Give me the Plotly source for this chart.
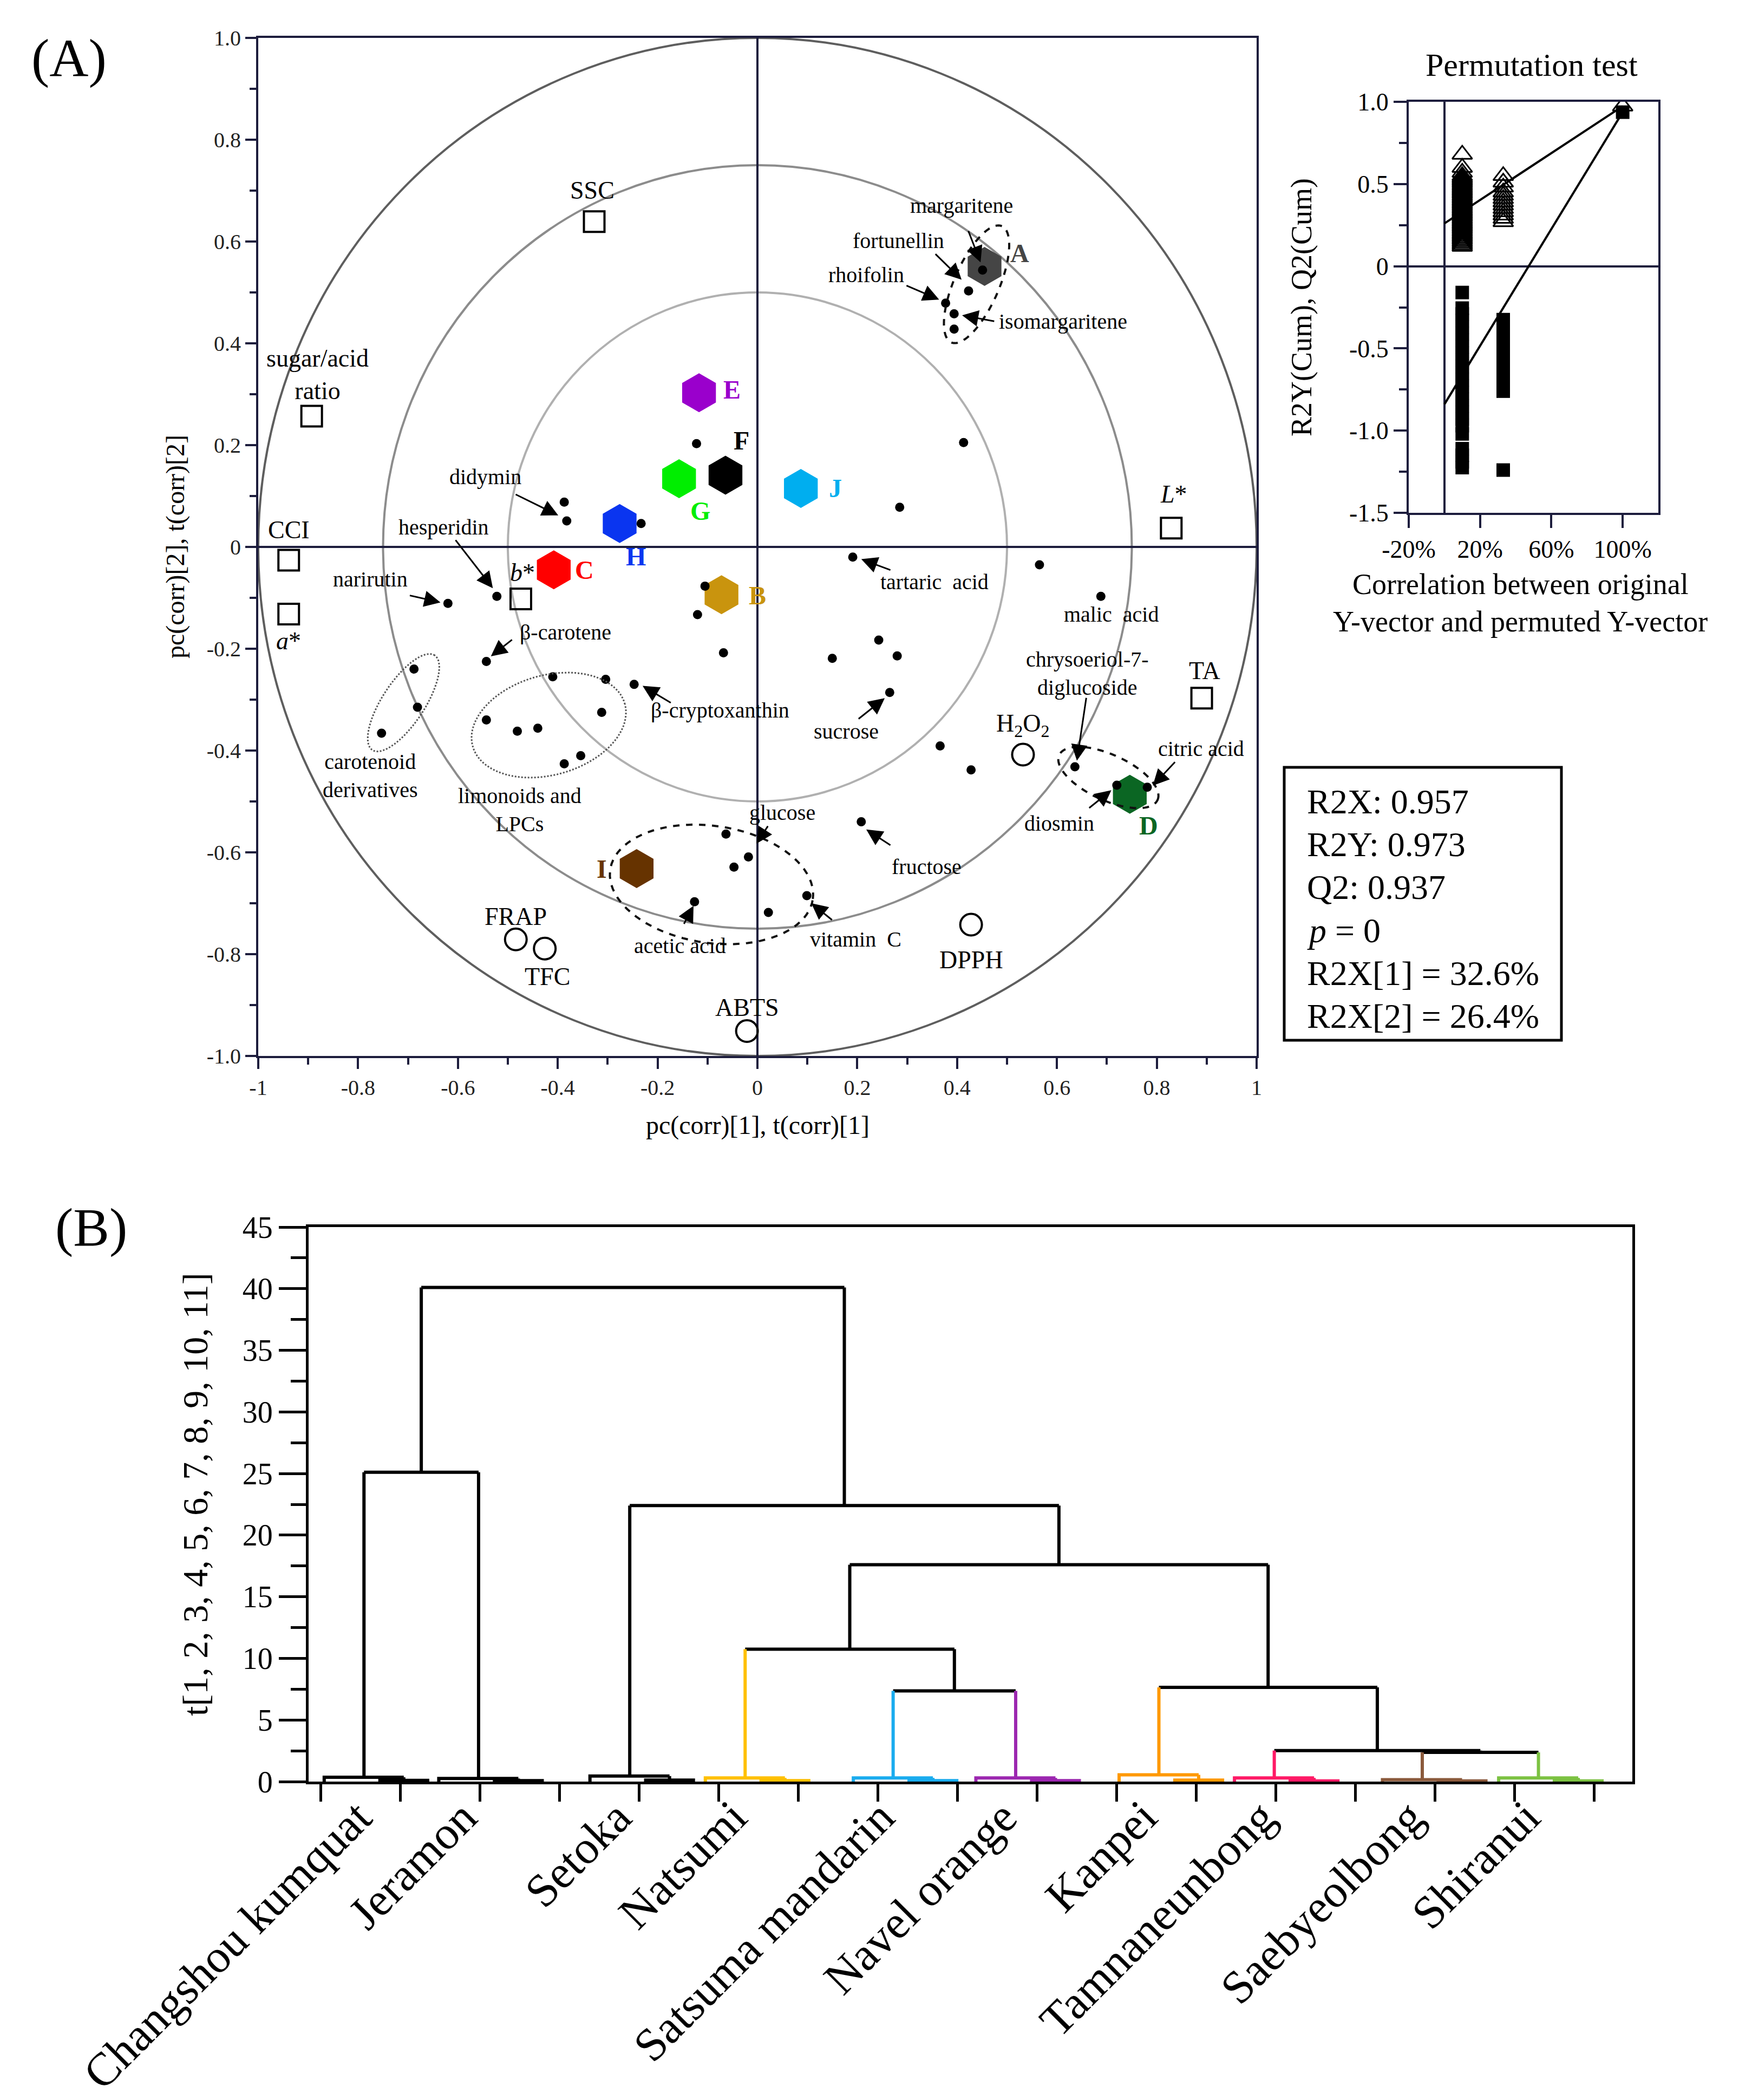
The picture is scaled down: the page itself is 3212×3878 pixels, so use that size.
import numpy as np
import plotly.graph_objects as go

W, H = 3212, 3878
SERIF = "Liberation Serif, Times New Roman, serif"
NAVY = "#1d1d3d"

def px_x(p):
    return p / W

def px_y(p):
    return 1 - p / H

# ---------------- Panel A : OPLS-DA biplot ----------------
obs_labels = ["A", "B", "C", "D", "E", "F", "G", "H", "I", "J"]
obs_x = [0.455, -0.072, -0.408, 0.746, -0.117, -0.064, -0.157, -0.276, -0.242, 0.087]
obs_y = [0.551, -0.094, -0.045, -0.486, 0.303, 0.141, 0.134, 0.046, -0.632, 0.115]
obs_colors = ["#454545", "#C9940E", "#FF0000", "#0B6623", "#9A00CC", "#000000",
              "#00EE00", "#0A35F0", "#663300", "#00AEEF"]

met_x = [0.451, 0.423, 0.377, 0.394, 0.394, -0.122, 0.413, 0.285, -0.387, -0.382,
         -0.233, 0.191, 0.565, 0.688, -0.105, -0.120, -0.068, 0.243, 0.150, 0.280,
         0.265, 0.366, 0.428, 0.636, 0.720, 0.781, 0.208, -0.063, -0.018, -0.047,
         -0.126, 0.022, 0.099, -0.522, -0.620, -0.543, -0.688, -0.681, -0.753, -0.410,
         -0.304, -0.247, -0.543, -0.481, -0.440, -0.312, -0.354, -0.387]
met_y = [0.544, 0.503, 0.479, 0.458, 0.428, 0.203, 0.205, 0.078, 0.088, 0.051,
         0.046, -0.020, -0.035, -0.097, -0.077, -0.133, -0.208, -0.183, -0.219, -0.214,
         -0.286, -0.391, -0.438, -0.432, -0.468, -0.472, -0.540, -0.564, -0.609, -0.629,
         -0.697, -0.718, -0.685, -0.097, -0.111, -0.225, -0.240, -0.315, -0.366, -0.255,
         -0.260, -0.270, -0.340, -0.362, -0.356, -0.325, -0.410, -0.426]

qual_names = ["SSC", "sugar/acid<br>ratio", "CCI", "<i>a</i>*", "<i>b</i>*", "<i>L</i>*", "TA"]
qual_x = [-0.327, -0.893, -0.939, -0.939, -0.474, 0.829, 0.890]
qual_y = [0.639, 0.257, -0.026, -0.132, -0.102, 0.037, -0.297]

anti_names = ["H<sub>2</sub>O<sub>2</sub>", "DPPH", "ABTS", "FRAP", "TFC"]
anti_x = [0.532, 0.428, -0.021, -0.484, -0.426]
anti_y = [-0.408, -0.742, -0.951, -0.771, -0.789]

# label placement (layout only)
obs_label_pos = [(0.526, 0.577), (0.000, -0.095), (-0.346, -0.045), (0.784, -0.547),
                 (-0.051, 0.309), (-0.032, 0.209), (-0.114, 0.071), (-0.244, -0.019),
                 (-0.312, -0.632), (0.156, 0.115)]
qual_label_pos = [(-0.331, 0.700), (-0.881, 0.339), (-0.939, 0.034), (-0.939, -0.185),
                  (-0.471, -0.050), (0.834, 0.104), (0.896, -0.243)]
anti_label_pos = [(0.532, -0.350), (0.428, -0.811), (-0.021, -0.905), (-0.484, -0.726),
                  (-0.421, -0.844)]

met_labels = [
    ("margaritene", 0.409, 0.671, "center"),
    ("fortunellin", 0.282, 0.602, "center"),
    ("rhoifolin", 0.218, 0.535, "center"),
    ("isomargaritene", 0.482, 0.443, "left"),
    ("didymin", -0.545, 0.138, "center"),
    ("hesperidin", -0.628, 0.039, "center"),
    ("narirutin", -0.775, -0.063, "center"),
    ("β-carotene", -0.384, -0.168, "center"),
    ("β-cryptoxanthin", -0.075, -0.321, "center"),
    ("tartaric  acid", 0.355, -0.069, "center"),
    ("malic  acid", 0.709, -0.132, "center"),
    ("sucrose", 0.178, -0.362, "center"),
    ("chrysoeriol-7-<br>diglucoside", 0.661, -0.248, "center"),
    ("citric acid", 0.889, -0.396, "center"),
    ("diosmin", 0.605, -0.543, "center"),
    ("glucose", 0.050, -0.522, "center"),
    ("fructose", 0.339, -0.628, "center"),
    ("vitamin  C", 0.197, -0.771, "center"),
    ("acetic acid", -0.155, -0.784, "center"),
    ("carotenoid<br>derivatives", -0.775, -0.449, "center"),
    ("limonoids and<br>LPCs", -0.476, -0.517, "center"),
]

# arrows: head (x, y), tail (x, y)
arrows = [
    (0.447, 0.559, 0.422, 0.622), (0.409, 0.525, 0.355, 0.577),
    (0.364, 0.486, 0.297, 0.514), (0.410, 0.455, 0.476, 0.443),
    (-0.399, 0.062, -0.486, 0.104), (-0.530, -0.081, -0.606, 0.015),
    (-0.635, -0.109, -0.698, -0.095), (-0.534, -0.215, -0.490, -0.181),
    (-0.230, -0.273, -0.172, -0.307), (0.208, -0.024, 0.268, -0.046),
    (0.255, -0.297, 0.201, -0.339), (0.640, -0.420, 0.659, -0.295),
    (0.792, -0.469, 0.838, -0.421), (0.709, -0.478, 0.663, -0.514),
    (-0.002, -0.583, 0.022, -0.547), (0.218, -0.555, 0.268, -0.587),
    (0.108, -0.700, 0.151, -0.734), (-0.128, -0.705, -0.148, -0.742),
]

# grouping ellipses: cx, cy, semi-major, semi-minor, angle, dash
ellipses = [
    (0.439, 0.516, 0.125, 0.045, 66, "dash"),
    (0.703, -0.453, 0.108, 0.045, -24, "dash"),
    (-0.092, -0.663, 0.205, 0.115, -8, "dash"),
    (-0.709, -0.306, 0.112, 0.042, 56, "dot"),
    (-0.418, -0.350, 0.158, 0.098, 15, "dot"),
]

circle_radii = [1.0, 0.75, 0.5]
circle_colors = ["#5e5e5e", "#8c8c8c", "#b0b0b0"]

# ---------------- Permutation test ----------------
perm_corr_levels = [0.10, 0.33]
r2_perm_col1 = [0.12, 0.13, 0.14, 0.15, 0.16, 0.17, 0.18, 0.19, 0.20, 0.21, 0.22, 0.23,
                0.24, 0.25, 0.26, 0.27, 0.28, 0.29, 0.30, 0.31, 0.32, 0.33, 0.34, 0.35,
                0.36, 0.37, 0.38, 0.39, 0.40, 0.41, 0.42, 0.43, 0.44, 0.45, 0.46, 0.47,
                0.48, 0.49, 0.50, 0.51, 0.52, 0.53, 0.54, 0.55, 0.57, 0.60, 0.68]
r2_perm_col2 = [0.27, 0.29, 0.31, 0.33, 0.35, 0.37, 0.39, 0.41, 0.43, 0.45, 0.48, 0.51, 0.55]
q2_perm_col1 = [-0.16, -0.255, -0.29, -0.33, -0.37, -0.41, -0.45, -0.49, -0.53, -0.57,
                -0.61, -0.65, -0.69, -0.73, -0.77, -0.81, -0.85, -0.89, -0.93, -0.97,
                -1.02, -1.11, -1.15, -1.19, -1.225]
q2_perm_col2 = [-0.325, -0.37, -0.41, -0.45, -0.49, -0.53, -0.57, -0.61, -0.65, -0.69,
                -0.73, -0.76, -1.24]
r2_orig, q2_orig = 0.973, 0.937
r2_intercept, q2_intercept = 0.26, -0.84

stats_lines = ["R2X: 0.957", "R2Y: 0.973", "Q2: 0.937", "<i>p</i> = 0",
               "R2X[1] = 32.6%", "R2X[2] = 26.4%"]

# ---------------- Panel B : dendrogram ----------------
cultivars = ["Changshou kumquat", "Jeramon", "Setoka", "Natsumi", "Satsuma mandarin",
             "Navel orange", "Kanpei", "Tamnaneunbong", "Saebyeolbong", "Shiranui"]
cultivar_pos = [0.54, 1.98, 3.88, 5.33, 7.19, 8.73, 10.53, 11.98, 13.84, 15.30]
cultivar_colors = ["#000000", "#000000", "#000000", "#FFC000", "#1AACEF", "#9C27B0",
                   "#FF9900", "#FF1A66", "#8B5A3C", "#7CC242"]
rep_h_inner = [0.10, 0.08, 0.12, 0.08, 0.08, 0.08, 0.12, 0.06, 0.05, 0.06]
rep_h_outer = [0.35, 0.25, 0.45, 0.30, 0.30, 0.30, 0.55, 0.30, 0.15, 0.30]
# linkage: (left node, right node, height); nodes 0-9 are cultivars
merges = [(8, 9, 2.37), (7, 10, 2.52), (6, 11, 7.65), (4, 5, 7.36), (3, 13, 10.75),
          (14, 12, 17.6), (2, 15, 22.4), (0, 1, 25.1), (17, 16, 40.1)]

fig = go.Figure()

# ---- Panel A shapes ----
for r, c in zip(circle_radii, circle_colors):
    fig.add_shape(type="circle", xref="x", yref="y", x0=-r, y0=-r, x1=r, y1=r,
                  line=dict(color=c, width=4), layer="below")

def ellipse_path(cx, cy, a, b, ang):
    t = np.linspace(0, 2 * np.pi, 90)
    th = np.deg2rad(ang)
    xs = cx + a * np.cos(t) * np.cos(th) - b * np.sin(t) * np.sin(th)
    ys = cy + a * np.cos(t) * np.sin(th) + b * np.sin(t) * np.cos(th)
    return "M " + " L ".join(f"{x:.4f},{y:.4f}" for x, y in zip(xs, ys)) + " Z"

for cx, cy, a, b, ang, dash in ellipses:
    fig.add_shape(type="path", xref="x", yref="y", path=ellipse_path(cx, cy, a, b, ang),
                  line=dict(color="#111111" if dash == "dash" else "#555555",
                            width=4 if dash == "dash" else 3, dash=dash))

# ---- Panel A traces ----
fig.add_trace(go.Scatter(x=obs_x, y=obs_y, mode="markers", xaxis="x", yaxis="y",
                         marker=dict(symbol="hexagon", size=72, color=obs_colors,
                                     line=dict(width=0))))
fig.add_trace(go.Scatter(x=qual_x, y=qual_y, mode="markers", xaxis="x", yaxis="y",
                         marker=dict(symbol="square-open", size=38, color="black",
                                     line=dict(width=4))))
fig.add_trace(go.Scatter(x=anti_x, y=anti_y, mode="markers", xaxis="x", yaxis="y",
                         marker=dict(symbol="circle-open", size=40, color="black",
                                     line=dict(width=4))))
fig.add_trace(go.Scatter(x=met_x, y=met_y, mode="markers", xaxis="x", yaxis="y",
                         marker=dict(symbol="circle", size=17, color="black")))

ann = []
for lab, (lx, ly), col in zip(obs_labels, obs_label_pos, obs_colors):
    ann.append(dict(x=lx, y=ly, xref="x", yref="y", text=f"<b>{lab}</b>", showarrow=False,
                    font=dict(family=SERIF, size=48, color=col)))
for name, (lx, ly) in zip(qual_names, qual_label_pos):
    ann.append(dict(x=lx, y=ly, xref="x", yref="y", text=name, showarrow=False,
                    font=dict(family=SERIF, size=46, color="black")))
for name, (lx, ly) in zip(anti_names, anti_label_pos):
    ann.append(dict(x=lx, y=ly, xref="x", yref="y", text=name, showarrow=False,
                    font=dict(family=SERIF, size=46, color="black")))
for txt, lx, ly, anc in met_labels:
    ann.append(dict(x=lx, y=ly, xref="x", yref="y", text=txt, showarrow=False,
                    xanchor=anc, yanchor="middle",
                    font=dict(family=SERIF, size=40, color="black")))
for hx, hy, tx, ty in arrows:
    ann.append(dict(x=hx, y=hy, ax=tx, ay=ty, xref="x", yref="y", axref="x", ayref="y",
                    text="", showarrow=True, arrowhead=2, arrowsize=2.0, arrowwidth=3,
                    arrowcolor="black", standoff=0))

def paper_text(x, y, text, size, angle=0, xanchor="center", yanchor="middle"):
    return dict(x=px_x(x), y=px_y(y), xref="paper", yref="paper", text=text,
                showarrow=False, textangle=angle, xanchor=xanchor, yanchor=yanchor,
                font=dict(family=SERIF, size=size, color="black"))

# titles & panel labels
ann.append(paper_text(120, 100, "(A)", 100))
ann.append(paper_text(160, 2258, "(B)", 100))
ann.append(paper_text(1391, 2070, "pc(corr)[1], t(corr)[1]", 48))
ann.append(paper_text(316, 1002, "pc(corr)[2], t(corr)[2]", 48, angle=-90))

# ---- Permutation traces ----
for lvl, vals in zip(perm_corr_levels, [r2_perm_col1, r2_perm_col2]):
    fig.add_trace(go.Scatter(x=[lvl] * len(vals), y=vals, mode="markers", xaxis="x2", yaxis="y2",
                             marker=dict(symbol="triangle-up-open", size=32, color="black",
                                         line=dict(width=3))))
for lvl, vals in zip(perm_corr_levels, [q2_perm_col1, q2_perm_col2]):
    fig.add_trace(go.Scatter(x=[lvl] * len(vals), y=vals, mode="markers", xaxis="x2", yaxis="y2",
                             marker=dict(symbol="square", size=25, color="black")))
fig.add_trace(go.Scatter(x=[1.0], y=[q2_orig], mode="markers", xaxis="x2", yaxis="y2",
                         marker=dict(symbol="square", size=25, color="black")))
fig.add_trace(go.Scatter(x=[1.0], y=[r2_orig], mode="markers", xaxis="x2", yaxis="y2",
                         marker=dict(symbol="triangle-up-open", size=32, color="black",
                                     line=dict(width=3))))
fig.add_trace(go.Scatter(x=[0, 1.0], y=[r2_intercept, r2_orig], mode="lines", xaxis="x2",
                         yaxis="y2", line=dict(color="black", width=4)))
fig.add_trace(go.Scatter(x=[0, 1.0], y=[q2_intercept, q2_orig], mode="lines", xaxis="x2",
                         yaxis="y2", line=dict(color="black", width=4)))

ann.append(paper_text(2821, 112, "Permutation test", 60))
ann.append(paper_text(2396, 560, "R2Y(Cum), Q2(Cum)", 54, angle=-90))
ann.append(paper_text(2800, 1071, "Correlation between original", 54))
ann.append(paper_text(2800, 1140, "Y-vector and permuted Y-vector", 54))

# ---- stats box ----
fig.add_shape(type="rect", xref="paper", yref="paper", x0=px_x(2364), x1=px_x(2876),
              y0=px_y(1913), y1=px_y(1409), line=dict(color="black", width=5))
for i, line in enumerate(stats_lines):
    ann.append(paper_text(2404, 1472 + 79.4 * i, line, 64, xanchor="left"))

# ---- Dendrogram ----
node_x = list(cultivar_pos)
node_h = list(rep_h_outer)
node_color = list(cultivar_colors)
seg = {}

def add_seg(color, xs, ys):
    seg.setdefault(color, ([], []))
    seg[color][0].extend(list(xs) + [None])
    seg[color][1].extend(list(ys) + [None])

# replicate brackets near zero
for p, c, h1, h2 in zip(cultivar_pos, cultivar_colors, rep_h_inner, rep_h_outer):
    l1, l2, l3 = p - 0.5, p + 0.2, p + 0.8
    add_seg(c, [l2, l2, l3, l3], [0, h1, h1, 0])
    add_seg(c, [l1, l1, (l2 + l3) / 2], [0, h2, h2])
    add_seg(c, [(l2 + l3) / 2, (l2 + l3) / 2], [h1, h2])

for li, ri, h in merges:
    xl, xr = node_x[li], node_x[ri]
    cl = node_color[li] if li < len(cultivars) else "#000000"
    cr = node_color[ri] if ri < len(cultivars) else "#000000"
    add_seg(cl, [xl, xl], [node_h[li], h])
    add_seg(cr, [xr, xr], [node_h[ri], h])
    add_seg("#000000", [xl, xr], [h, h])
    node_x.append((xl + xr) / 2)
    node_h.append(h)
    node_color.append("#000000")

for c, (xs, ys) in seg.items():
    fig.add_trace(go.Scatter(x=xs, y=ys, mode="lines", xaxis="x3", yaxis="y3",
                             line=dict(color=c, width=6), connectgaps=False))

label_shift = [0.24, 0.12, 0.16, 0.16, 0.16, 0.16, 0.12, 0.16, 0.16, 0.16]
for name, p, s in zip(cultivars, cultivar_pos, label_shift):
    ann.append(dict(x=p + s, y=px_y(3296), xref="x3", yref="paper", text=name,
                    textangle=-45, xanchor="right", yanchor="top", showarrow=False,
                    font=dict(family=SERIF, size=86, color="black")))
ann.append(paper_text(352, 2752, "t[1, 2, 3, 4, 5, 6, 7, 8, 9, 10, 11]", 66, angle=-90))

# ---- axes ----
a_ticks = [-1.0, -0.8, -0.6, -0.4, -0.2, 0.0, 0.2, 0.4, 0.6, 0.8, 1.0]
a_minor = [-0.9, -0.7, -0.5, -0.3, -0.1, 0.1, 0.3, 0.5, 0.7, 0.9]
x_text = ["-1", "-0.8", "-0.6", "-0.4", "-0.2", "0", "0.2", "0.4", "0.6", "0.8", "1"]
y_text = ["-1.0", "-0.8", "-0.6", "-0.4", "-0.2", "0", "0.2", "0.4", "0.6", "0.8", "1.0"]

def base_axis(color, lw):
    return dict(showgrid=False, ticks="outside", tickcolor=color, tickwidth=lw,
                showline=True, linecolor=color, linewidth=lw, mirror=True, automargin=False)

fig.update_layout(
    width=W, height=H, margin=dict(l=0, r=0, t=0, b=0, autoexpand=False),
    paper_bgcolor="white", plot_bgcolor="white", showlegend=False,
    xaxis=dict(**base_axis(NAVY, 4), domain=[px_x(469), px_x(2313)], range=[-1, 1],
               anchor="y", tickmode="array", tickvals=a_ticks, ticktext=x_text, ticklen=20,
               minor=dict(tickvals=a_minor, ticklen=12, tickwidth=4, tickcolor=NAVY,
                          ticks="outside"),
               zeroline=True, zerolinecolor=NAVY, zerolinewidth=4,
               tickfont=dict(family=SERIF, size=40, color="#222222")),
    yaxis=dict(**base_axis(NAVY, 4), domain=[px_y(1942), px_y(62)], range=[-1, 1],
               anchor="x", tickmode="array", tickvals=a_ticks, ticktext=y_text, ticklen=20,
               minor=dict(tickvals=a_minor, ticklen=12, tickwidth=4, tickcolor=NAVY,
                          ticks="outside"),
               zeroline=True, zerolinecolor=NAVY, zerolinewidth=4,
               tickfont=dict(family=SERIF, size=40, color="#222222")),
    xaxis2=dict(**base_axis(NAVY, 4), domain=[px_x(2594), px_x(3055)], range=[-0.2, 1.2],
                anchor="y2", tickmode="array", tickvals=[-0.2, 0.2, 0.6, 1.0],
                ticktext=["-20%", "20%", "60%", "100%"], ticklen=24,
                zeroline=True, zerolinecolor=NAVY, zerolinewidth=4,
                tickfont=dict(family=SERIF, size=46, color="black")),
    yaxis2=dict(**base_axis(NAVY, 4), domain=[px_y(939), px_y(180)], range=[-1.5, 1.0],
                anchor="x2", tickmode="array", tickvals=[-1.5, -1.0, -0.5, 0, 0.5, 1.0],
                ticktext=["-1.5", "-1.0", "-0.5", "0", "0.5", "1.0"], ticklen=24,
                minor=dict(tickvals=[-1.25, -0.75, -0.25, 0.25, 0.75], ticklen=14,
                           tickwidth=4, tickcolor=NAVY, ticks="outside"),
                zeroline=True, zerolinecolor=NAVY, zerolinewidth=4,
                tickfont=dict(family=SERIF, size=46, color="black")),
    xaxis3=dict(**base_axis("black", 5), domain=[px_x(562), px_x(3007)], range=[-0.156, 16.48],
                anchor="y3", tickmode="array", tickvals=list(range(17)),
                ticktext=[""] * 17, ticklen=32, zeroline=False),
    yaxis3=dict(**base_axis("black", 5), domain=[px_y(3282), px_y(2258)], range=[0, 45],
                anchor="x3", tickmode="array", tickvals=list(range(0, 46, 5)), ticklen=50,
                minor=dict(tickvals=[2.5 + 5 * k for k in range(9)], ticklen=28, tickwidth=5,
                           tickcolor="black", ticks="outside"),
                zeroline=False, tickfont=dict(family=SERIF, size=56, color="black")),
    annotations=ann,
)

fig.write_html("out.html")
